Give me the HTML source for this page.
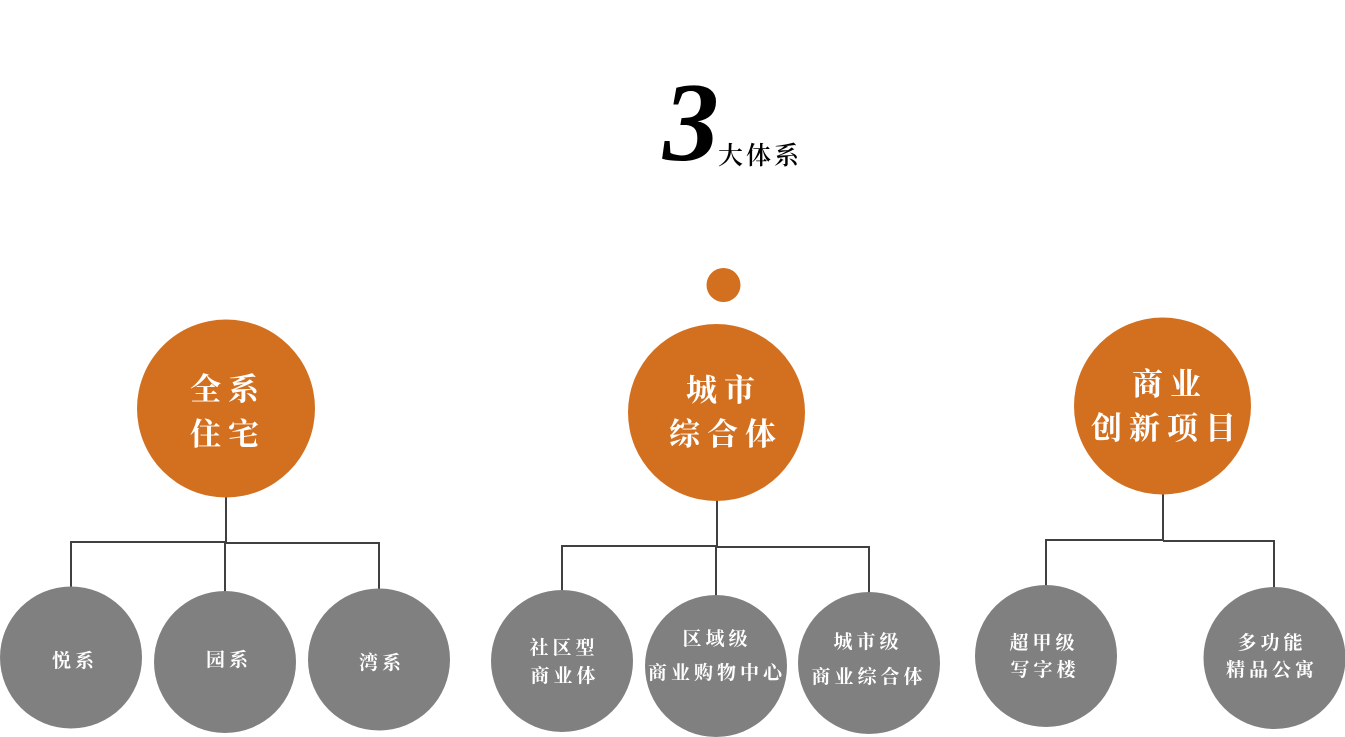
<!DOCTYPE html>
<html>
<head>
<meta charset="utf-8">
<style>
html,body{margin:0;padding:0;background:#fff;}
body{width:1345px;height:737px;overflow:hidden;}
svg{display:block;}
.o{font-family:"Liberation Serif","Noto Serif CJK SC","WenQuanYi Zen Hei",serif;font-size:31px;font-weight:bold;fill:#fff;letter-spacing:7px;text-anchor:middle;}
.g{font-family:"Liberation Serif","Noto Serif CJK SC","WenQuanYi Zen Hei",serif;font-size:19px;font-weight:bold;fill:#fff;letter-spacing:4px;text-anchor:middle;}
</style>
</head>
<body>
<svg width="1345" height="737" viewBox="0 0 1345 737" xmlns="http://www.w3.org/2000/svg">
  <!-- title -->
  <text x="691" y="160" text-anchor="middle" font-family="Liberation Serif, serif" font-size="112" font-style="italic" font-weight="bold" fill="#000">3</text>
  <text x="718" y="164" font-family="Liberation Serif, Noto Serif CJK SC, serif" font-size="25" font-weight="600" letter-spacing="3" fill="#000">大体系</text>

  <!-- small dot -->
  <circle cx="723.5" cy="285" r="17" fill="#D3701F"/>

  <!-- connectors -->
  <g stroke="#404040" stroke-width="2" fill="none">
    <!-- left -->
    <line x1="226" y1="496" x2="226" y2="543"/>
    <polyline points="71,588 71,542 226,542"/>
    <polyline points="226,543 379,543 379,590"/>
    <line x1="225" y1="542" x2="225" y2="592"/>
    <!-- center -->
    <line x1="717" y1="500" x2="717" y2="547"/>
    <polyline points="562,591 562,546 717,546"/>
    <polyline points="717,547 869,547 869,593"/>
    <line x1="716" y1="546" x2="716" y2="596"/>
    <!-- right -->
    <line x1="1163" y1="493" x2="1163" y2="541"/>
    <polyline points="1046,586 1046,540 1163,540"/>
    <polyline points="1163,541 1274,541 1274,588"/>
  </g>

  <!-- orange circles -->
  <circle cx="226" cy="408.5" r="89" fill="#D3701F"/>
  <circle cx="716.5" cy="412.5" r="88.5" fill="#D3701F"/>
  <circle cx="1162.5" cy="406" r="88.5" fill="#D3701F"/>

  <!-- gray circles -->
  <circle cx="71" cy="657.5" r="71" fill="#808080"/>
  <circle cx="225" cy="662" r="71" fill="#808080"/>
  <circle cx="379" cy="659.5" r="71" fill="#808080"/>
  <circle cx="562" cy="661" r="71" fill="#808080"/>
  <circle cx="716" cy="666" r="71" fill="#808080"/>
  <circle cx="869" cy="663" r="71" fill="#808080"/>
  <circle cx="1046" cy="656" r="71" fill="#808080"/>
  <circle cx="1274.5" cy="658" r="71" fill="#808080"/>

  <!-- orange text -->
  <text class="o" x="228" y="400">全系</text>
  <text class="o" x="228" y="445">住宅</text>
  <text class="o" x="724" y="401">城市</text>
  <text class="o" x="726" y="445">综合体</text>
  <text class="o" x="1170" y="395">商业</text>
  <text class="o" x="1167" y="439" letter-spacing="6">创新项目</text>

  <!-- gray text -->
  <text class="g" x="75" y="667" letter-spacing="6">悦系</text>
  <text class="g" x="229" y="666" letter-spacing="5">园系</text>
  <text class="g" x="382" y="669" letter-spacing="5">湾系</text>

  <text class="g" x="564" y="654">社区型</text>
  <text class="g" x="565" y="682">商业体</text>
  <text class="g" x="717" y="645">区域级</text>
  <text class="g" x="717" y="679">商业购物中心</text>
  <text class="g" x="868" y="648">城市级</text>
  <text class="g" x="869" y="683">商业综合体</text>

  <text class="g" x="1044" y="649">超甲级</text>
  <text class="g" x="1045" y="676">写字楼</text>
  <text class="g" x="1272" y="649">多功能</text>
  <text class="g" x="1272" y="676">精品公寓</text>
</svg>
</body>
</html>
